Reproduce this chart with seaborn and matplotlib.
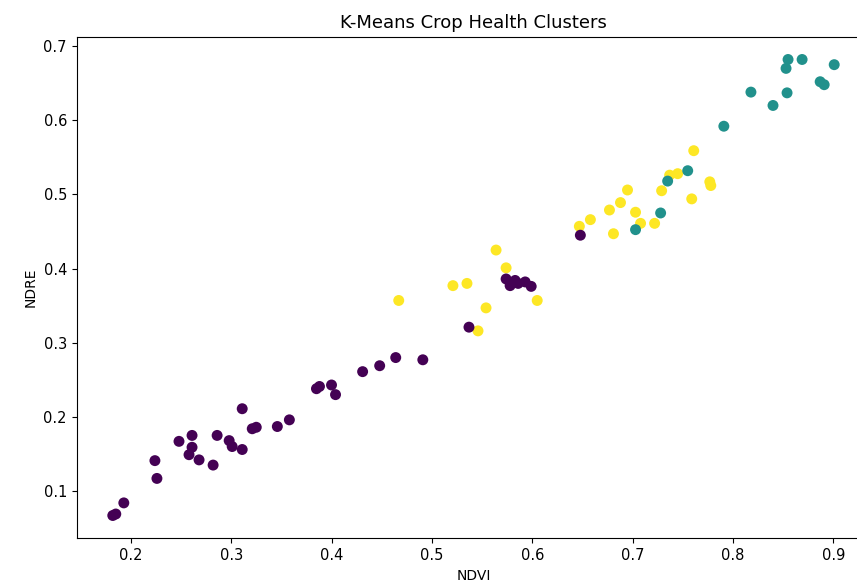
import matplotlib
matplotlib.use("Agg")
import matplotlib.pyplot as plt
import seaborn as sns
import pandas as pd

# Cluster 0 (purple)
ndvi_c0 = [0.182, 0.185, 0.193, 0.224, 0.226, 0.248, 0.261, 0.261, 0.258, 0.268,
           0.282, 0.286, 0.298, 0.301, 0.311, 0.311, 0.321, 0.325, 0.346, 0.358,
           0.385, 0.388, 0.400, 0.404, 0.431, 0.448, 0.464, 0.491, 0.537, 0.574,
           0.578, 0.583, 0.586, 0.593, 0.599, 0.648]
ndre_c0 = [0.067, 0.069, 0.084, 0.141, 0.117, 0.167, 0.175, 0.159, 0.149, 0.142,
           0.135, 0.175, 0.168, 0.160, 0.156, 0.211, 0.184, 0.186, 0.187, 0.196,
           0.238, 0.241, 0.243, 0.230, 0.261, 0.269, 0.280, 0.277, 0.321, 0.386,
           0.377, 0.384, 0.380, 0.382, 0.376, 0.445]

# Cluster 1 (teal)
ndvi_c1 = [0.703, 0.728, 0.735, 0.755, 0.791, 0.818, 0.840, 0.854, 0.853, 0.855,
           0.869, 0.887, 0.891, 0.901]
ndre_c1 = [0.4525, 0.475, 0.518, 0.532, 0.592, 0.638, 0.620, 0.637, 0.670, 0.682,
           0.682, 0.652, 0.648, 0.675]

# Cluster 2 (yellow)
ndvi_c2 = [0.467, 0.521, 0.535, 0.546, 0.554, 0.564, 0.574, 0.605, 0.647, 0.658,
           0.677, 0.681, 0.688, 0.695, 0.703, 0.708, 0.722, 0.729, 0.737, 0.745,
           0.759, 0.761, 0.777, 0.778]
ndre_c2 = [0.357, 0.377, 0.380, 0.316, 0.347, 0.425, 0.401, 0.357, 0.457, 0.466,
           0.479, 0.447, 0.489, 0.506, 0.476, 0.461, 0.461, 0.505, 0.526, 0.528,
           0.494, 0.559, 0.517, 0.512]

df = pd.concat([
    pd.DataFrame({"NDVI": ndvi_c2, "NDRE": ndre_c2, "cluster": 2}),
    pd.DataFrame({"NDVI": ndvi_c1, "NDRE": ndre_c1, "cluster": 1}),
    pd.DataFrame({"NDVI": ndvi_c0, "NDRE": ndre_c0, "cluster": 0}),
], ignore_index=True)

palette = {0: "#440154", 1: "#21918c", 2: "#fde725"}

plt.rcParams['font.family'] = ['DejaVu Sans']
fig = plt.figure(figsize=(8.57, 5.86), dpi=100)
ax = fig.add_axes([0.0895, 0.0814, 0.926, 0.856])

sns.scatterplot(data=df, x="NDVI", y="NDRE", hue="cluster", palette=palette,
                s=62, linewidth=0, legend=False, ax=ax)

ax.spines['right'].set_visible(False)
ax.set_title("K-Means Crop Health Clusters", fontsize=13)
ax.set_xlabel("NDVI", fontsize=10)
ax.set_ylabel("NDRE", fontsize=10)
ax.tick_params(labelsize=10.5)

fig.savefig("out.png", dpi=100)
